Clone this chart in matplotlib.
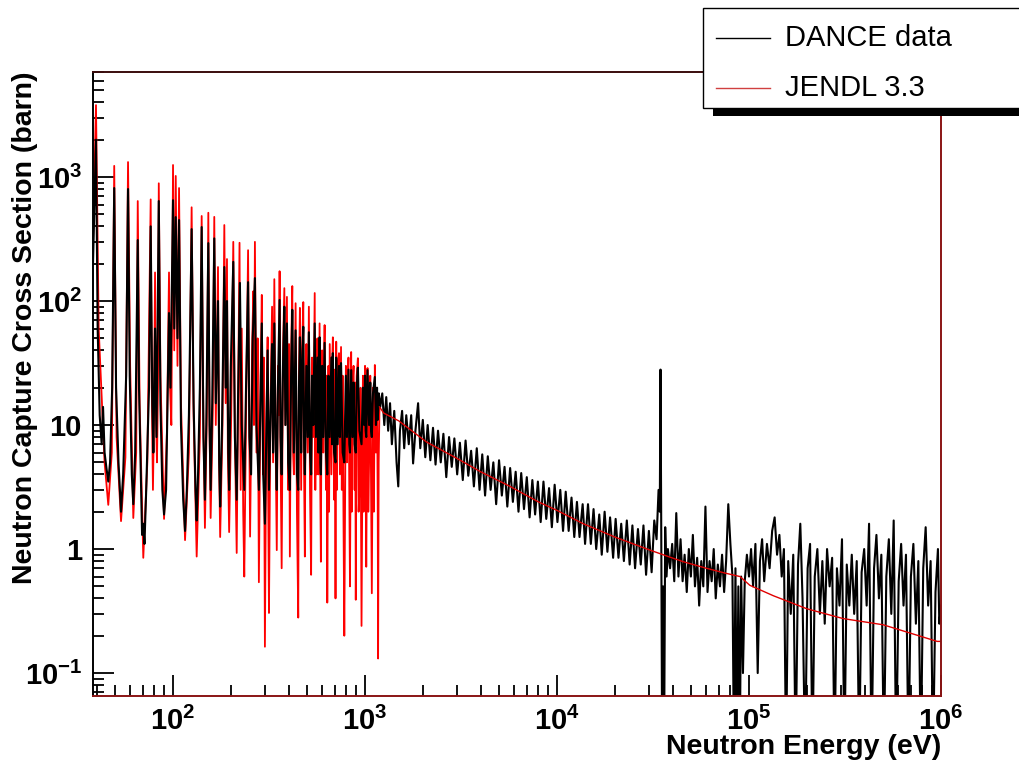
import matplotlib
matplotlib.use('Agg')
import matplotlib.pyplot as plt
from matplotlib.patches import Rectangle
from matplotlib.lines import Line2D

plt.rcParams['font.family'] = ['Liberation Sans', 'DejaVu Sans']
plt.rcParams['mathtext.fontset'] = 'custom'
plt.rcParams['mathtext.rm'] = 'Liberation Sans:bold'
plt.rcParams['mathtext.it'] = 'Liberation Sans:bold'
plt.rcParams['mathtext.bf'] = 'Liberation Sans:bold'
plt.rcParams['mathtext.default'] = 'rm'

# JENDL 3.3 evaluation (energy in eV, cross section in barn)
jendl_E = [38.3, 39.7, 41.0, 44.0, 46.0, 48.0, 49.4, 50.8, 53.6, 56.5, 58.3, 59.8, 62.1, 64.3, 65.5, 67.0,
           70.0, 73.5, 76.5, 77.5, 78.6, 79.6, 80.6, 81.5, 82.5, 83.5, 84.3, 86.0, 89.8, 93.0, 95.3, 96.5,
           98.0, 100.0, 101.5, 103.3, 105.5, 107.5, 110.0, 115.5, 121.0, 125.0, 128.0, 132.8, 138.0, 141.0,
           144.0, 146.6, 150.0, 152.7, 155.0, 157.0, 161.0, 164.0, 167.0, 171.5, 173.5, 176.0, 181.0, 185.0,
           188.0, 191.0, 193.0, 196.0, 201.0, 206.0, 210.0, 214.6,
           222, 225, 228, 232, 235, 241, 246, 249, 252, 258, 262, 264, 267, 272, 276, 280, 286, 290, 294,
           297, 301, 306, 311, 313, 316, 322, 328, 332, 337, 342, 347, 352, 355, 359, 363, 368, 374, 380,
           385, 392, 398, 402, 406, 412, 418, 422, 426, 435, 442, 449, 453, 458, 465, 470, 477, 481, 486,
           491, 495, 503, 510, 517, 524, 530, 538, 547, 551, 555, 560, 565, 572, 580, 585, 589, 594, 598,
           606, 611, 616, 626, 631, 636, 645, 650, 655, 668, 674, 680, 690, 696, 702, 708, 714, 720, 732,
           740, 750, 757, 765, 772, 780, 795, 805, 812, 820, 828, 835, 847, 853, 860, 872, 883, 889, 895,
           905, 918, 926, 935, 947, 959, 975, 983, 990, 1000, 1008, 1015, 1030, 1040, 1050, 1065, 1075,
           1085, 1100, 1112, 1125, 1140, 1155, 1165, 1170, 1178, 1190,
           1250, 1500, 2090, 3000, 4000, 5690, 8000, 10000, 13700, 20000, 30500, 38800, 45500, 60000,
           75000, 89800, 101000, 134000, 200000, 309000, 500000, 955000, 1000000]
jendl_xs = [300, 3800, 60, 5.0, 2.27, 6.0, 1230, 8.0, 1.68, 5.5, 1320, 30, 1.78, 6.0, 640, 15,
            0.85, 5.0, 660, 20, 3.0, 12, 170, 12, 5.0, 20, 890, 25, 1.75, 9.0, 170, 20,
            10, 1250, 40, 1020, 30, 815, 15, 1.18, 6.0, 570, 12, 0.87, 8.0, 485,
            10, 1.48, 12, 515, 10, 1.78, 12, 477, 10, 188, 6.0, 1.25, 10, 410,
            15, 218, 6.0, 1.37, 12, 300, 8.0, 0.93,
            295, 3, 60, 2, 0.6, 20, 257, 15, 1.26, 40, 120, 10, 300, 6, 50, 0.54, 25, 112, 4,
            35, 0.163, 10, 51, 3, 0.305, 15, 90, 5, 150, 8, 0.98, 30, 12, 174, 6, 0.70, 40, 127,
            10, 108, 3, 45, 0.87, 35, 132, 6, 4, 96, 2, 0.28, 25, 88, 3, 40, 98, 5, 0.87,
            30, 45, 6, 90, 3, 0.62, 35, 8, 116, 3, 40, 4, 50, 4, 66, 3, 0.79, 25, 40,
            6, 30, 64, 3, 25, 0.37, 30, 2, 45, 4, 30, 51, 2.5, 28, 0.40, 47, 3, 30, 38,
            4, 42.6, 3, 25, 2, 0.20, 30, 5, 25, 35, 3, 0.5, 38.8, 2, 20, 30, 3, 22, 0.39,
            25, 34.6, 2, 3, 20, 0.24, 25, 2, 4, 30, 3, 0.72, 28.8, 2, 5, 25, 3,
            0.44, 20, 2, 30.5, 6, 20, 2, 0.131, 5, 14,
            12.5, 10.8, 7.3, 5.4, 4.2, 3.2, 2.4, 2.05, 1.6, 1.25, 0.98, 0.86, 0.79, 0.7,
            0.64, 0.6, 0.51, 0.42, 0.33, 0.275, 0.245, 0.18, 0.18]

dance_E = [38.3, 39.7, 40.5, 41.5, 42.5, 43.2, 44.0, 45.0, 46.0, 47.0, 48.2, 49.4, 50.5, 52.0, 53.6,
           55.0, 57.0, 58.3, 59.5, 61.0, 62.1, 63.5, 65.5, 66.5, 68.0, 69.0, 70.0, 71.0, 72.5, 75.0,
           76.5, 78.0, 79.0, 80.6, 82.0, 84.3, 86.0, 88.0, 89.8, 92.0, 95.3, 97.0, 100.0, 101.5, 103.3,
           105.5, 107.5, 110.0, 113.0, 115.5, 118.0, 121.0, 125.0, 128.0, 131.0, 132.8, 135.0, 138.0,
           141.0, 144.0, 146.6, 149.0, 152.7, 155.0, 157.0, 160.0, 164.0, 167.0, 171.5, 174.0, 176.0,
           180.0, 185.0, 188.0, 191.0, 194.0, 196.0, 200.0, 206.0, 210.0, 214.6,
           218, 223, 228, 235, 240, 246, 250, 255, 260, 267, 272, 280, 285, 290, 295, 301, 306, 311,
           316, 322, 328, 332, 337, 342, 347, 352, 359, 363, 368, 374, 380, 385, 392, 398, 406, 412,
           418, 426, 435, 442, 449, 453, 458, 465, 470, 477, 481, 486, 495, 503, 510, 517, 524, 530,
           538, 547, 555, 565, 572, 580, 585, 589, 598, 606, 616, 626, 636, 645, 655, 668, 674, 680,
           690, 702, 708, 720, 732, 740, 750, 765, 780, 795, 805, 820, 828, 835, 847, 860, 872, 883,
           895, 905, 918, 935, 959, 975, 990, 1000, 1008, 1015, 1030, 1050, 1065, 1075, 1085, 1100,
           1125, 1140, 1155, 1165, 1180,
           1200, 1230, 1260, 1290, 1320, 1350, 1380, 1420, 1460, 1490, 1520, 1560, 1600, 1640, 1690,
           1740, 1780, 1830, 1890, 1940, 2000, 2060, 2120, 2190, 2260, 2330, 2400, 2480, 2560, 2650,
           2740, 2830, 2920, 3020, 3120, 3230, 3340, 3450, 3570, 3690, 3820, 3950, 4080, 4220, 4360,
           4510, 4660, 4820, 4990, 5160, 5330, 5510, 5700, 5890, 6090, 6300, 6510, 6730, 6960, 7200,
           7440, 7690, 7950, 8220, 8500, 8790, 9090, 9400, 9720, 10050, 10400, 10750, 11100, 11500,
           11900, 12300, 12700, 13100, 13600, 14000, 14500, 15000, 15500, 16000, 16600, 17100, 17700,
           18300, 18900, 19600, 20200, 20900, 21600, 22300, 23100, 23900, 24700, 25500, 26400, 27300,
           28200, 29100, 30100, 31100, 32100, 33000, 33800, 34300, 34600, 34900, 35300, 35700, 36100,
           36600, 37200, 37800,
           38800, 39800, 40800, 41800, 42900, 44000, 45100, 46200, 47400, 48600, 49800, 51000, 52300,
           53700, 55000, 56400, 57800, 59300, 60800, 62300, 63900, 65500, 67100, 68800, 70600, 72400,
           74200, 76000, 78000, 80000, 82000, 83500, 85000, 86500, 88000, 89500, 91000, 93000, 95000,
           97500, 100000, 102500, 105000, 108000, 111000, 114000, 117000, 120000, 124000, 128000,
           132000, 136000, 140000, 144000, 148000, 152000, 156000, 160000, 165000, 170000, 175000,
           180000, 185000, 190000, 196000, 202000, 208000, 214000, 220000, 227000, 234000, 241000,
           248000, 255000, 263000, 271000, 279000, 287000, 296000, 305000, 314000, 323000, 333000,
           343000, 353000, 364000, 375000, 386000, 398000, 410000, 422000, 435000, 448000, 461000,
           475000, 489000, 504000, 519000, 535000, 551000, 567000, 584000, 602000, 620000, 638000,
           657000, 677000, 697000, 718000, 740000, 762000, 785000, 808000, 832000, 857000, 883000,
           909000, 936000, 964000, 980000, 1000000]
dance_xs = [200, 2000, 60, 12, 7, 14, 6, 4.5, 3.5, 5, 20, 815, 20, 5, 2.0,
            4, 25, 800, 25, 4, 2.3, 6, 310, 20, 4, 1.3, 1.6, 1.1, 3, 20,
            400, 15, 6, 60, 8, 640, 15, 3, 1.9, 3, 80, 20, 650, 60, 475,
            50, 450, 10, 2.5, 1.4, 3, 12, 380, 15, 3, 1.7, 4, 20,
            395, 8, 2.5, 10, 293, 10, 3, 15, 320, 15, 100, 5, 2.2,
            10, 188, 20, 100, 6, 3, 30, 207, 8, 2.5,
            15, 140, 10, 3, 20, 142, 8, 4, 50, 153, 10, 3, 15, 66, 4, 1.6, 8, 40,
            3, 12, 45, 6, 66, 8, 3, 20, 102, 8, 4, 30, 90, 10, 66, 5, 3, 25,
            85, 6, 58, 4, 3, 20, 51, 6, 30, 62, 8, 4, 30, 8, 56, 6, 4, 25,
            10, 66, 8, 35, 6, 51, 5, 4, 30, 8, 46, 6, 4, 25, 8, 35, 7, 38,
            6, 5, 35, 7, 30, 8, 31.6, 6, 5, 25, 8, 28, 7, 6, 27.7, 8, 22, 7,
            6, 20, 29, 9, 7, 20, 10, 25, 9, 8, 27.7, 10, 22, 9, 8, 18,
            24.4, 10, 20, 11, 18,
            14, 18, 10, 16.8, 9, 15, 7, 13, 5, 3.2, 9, 13, 6.5, 12, 7,
            12, 4.9, 9, 15, 6.5, 11, 5.5, 10, 5.2, 9.5, 4.8, 9, 5, 8.5, 3.8,
            8, 4.6, 7.8, 4.0, 7.2, 3.6, 7.5, 3.9, 6.2, 3.2, 6.5, 3.0, 5.8, 2.7, 5.6,
            3.0, 5.0, 2.3, 5.2, 2.7, 4.6, 2.2, 4.5, 2.4, 4.2, 2.0, 4.1, 2.1, 3.8, 1.8,
            3.6, 1.9, 3.5, 1.65, 3.5, 1.75, 3.1, 1.5, 3.3, 1.65, 3.0, 1.4, 2.9, 1.4,
            2.6, 1.25, 2.4, 1.25, 2.3, 1.1, 2.3, 1.1, 2.1, 1.0, 1.9, 0.9, 2.0,
            0.95, 1.8, 0.85, 1.75, 0.85, 1.6, 0.8, 1.7, 0.75, 1.55, 0.7, 1.45, 0.75,
            1.55, 0.62, 1.4, 0.65, 1.7, 1.2, 3.0, 2.0, 28, 1.5, 0.02, 0.5, 0.02,
            1.5, 0.6, 1.0,
            0.7, 1.1, 0.55, 1.95, 0.6, 1.2, 0.55, 0.9, 0.45, 1.0, 0.6, 1.3, 0.5,
            0.85, 0.35, 0.8, 0.5, 2.2, 0.45, 0.8, 0.55, 1.0, 0.4, 0.75, 0.5, 0.9,
            0.45, 0.8, 2.3, 1.1, 0.6, 0.02, 0.7, 0.02, 0.5, 0.02, 0.6, 0.1, 0.55,
            0.9, 0.6, 1.0, 0.5, 1.1, 0.1, 0.8, 1.2, 0.55, 1.1, 0.7,
            1.4, 1.8, 0.9, 1.3, 0.6, 1.0, 0.02, 0.8, 0.3, 0.9, 0.02,
            0.75, 1.6, 0.4, 0.02, 0.7, 1.1, 0.02, 0.6, 1.0, 0.3, 0.8,
            0.25, 1.0, 0.5, 0.85, 0.02, 0.7, 0.35, 1.2, 0.02, 0.75, 0.35,
            0.9, 0.3, 0.8, 0.02, 0.65, 1.0, 0.35, 1.6, 0.02, 0.7, 1.3,
            0.4, 0.9, 0.02, 0.6, 1.2, 0.3, 1.7, 0.02, 0.55, 1.1, 0.35,
            0.9, 0.02, 0.6, 1.1, 0.25, 0.8, 0.02, 0.7, 1.5, 0.35, 0.8,
            0.02, 0.45, 1.0, 0.25, 0.35]

x_ticks = [1e2, 1e3, 1e4, 1e5, 1e6]
x_ticklabels = ['$10^{2}$', '$10^{3}$', '$10^{4}$', '$10^{5}$', '$10^{6}$']
y_ticks = [0.1, 1, 10, 100, 1000]
y_ticklabels = ['$10^{-1}$', '1', '10', '$10^{2}$', '$10^{3}$']

W, H = 1020, 761
fig = plt.figure(figsize=(W/100, H/100), dpi=100)
ax = fig.add_axes([93/W, 1-696/H, (941-93)/W, (696-72)/H])
ax.set_xscale('log')
ax.set_yscale('log')

# resonance part of JENDL under the data, smooth part over it
n_res = jendl_E.index(1190) + 1
ax.plot(jendl_E[:n_res], jendl_xs[:n_res], color='#ff0000', lw=1.3, zorder=2)
ax.plot(dance_E, dance_xs, color='black', lw=1.5, zorder=3)
ax.plot(jendl_E[n_res-1:], jendl_xs[n_res-1:], color='#e00000', lw=1.0, zorder=4)
ax.set_xlim(38.3, 1e6)
ax.set_ylim(0.0653, 7030)

for s in ['right', 'bottom']:
    ax.spines[s].set_color('#8a1414')
ax.spines['top'].set_color('#3a0c0c')
ax.spines['left'].set_color('black')
for s in ax.spines.values():
    s.set_linewidth(1.4)
    s.set_zorder(5)

ax.set_xticks(x_ticks)
ax.set_xticklabels(x_ticklabels)
ax.set_yticks(y_ticks)
ax.set_yticklabels(y_ticklabels)
ax.tick_params(which='major', direction='in', length=15, width=1.3, labelsize=21, pad=8)
ax.tick_params(which='minor', direction='in', length=8, width=1.3)
ax.tick_params(top=False, right=False, which='both')
for lab in ax.get_xticklabels() + ax.get_yticklabels():
    lab.set_fontweight('bold')

fig.text(941/W, 1-747/H, 'Neutron Energy (eV)', ha='right', va='center',
         fontsize=20.5, fontweight='bold')
fig.text(25/W, 1-72/H, 'Neutron Capture Cross Section (barn)', ha='center', va='top',
         rotation=90, fontsize=20.5, fontweight='bold')

# legend box with ROOT style shadow
fig.patches.append(Rectangle((713/W, 1-116/H), 320/W, 10/H, transform=fig.transFigure,
                             facecolor='black', edgecolor='none', zorder=10))
fig.patches.append(Rectangle((703/W, 1-108/H), 330/W, 100/H, transform=fig.transFigure,
                             facecolor='white', edgecolor='black', lw=1.0, zorder=11))
fig.lines.append(Line2D([716/W, 770/W], [1-38/H, 1-38/H], transform=fig.transFigure,
                        color='black', lw=1.0, zorder=12))
fig.lines.append(Line2D([716/W, 770/W], [1-88/H, 1-88/H], transform=fig.transFigure,
                        color='#d04040', lw=1.0, zorder=12))
fig.text(785/W, 1-38/H, 'DANCE data', ha='left', va='center', fontsize=21, zorder=13)
fig.text(785/W, 1-88/H, 'JENDL 3.3', ha='left', va='center', fontsize=21, zorder=13)

fig.savefig('out.png', dpi=100)
